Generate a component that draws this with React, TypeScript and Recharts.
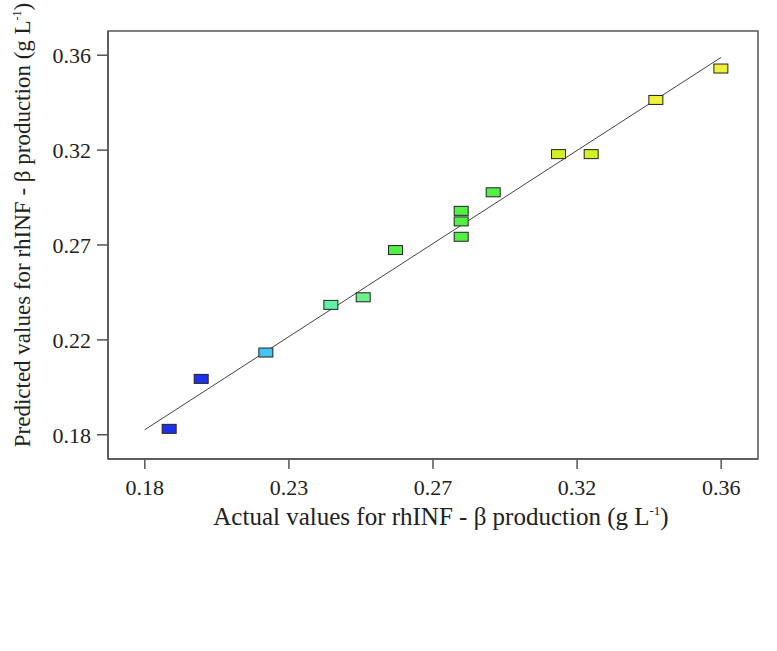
import { ScatterChart, Scatter, XAxis, YAxis, ReferenceLine, ReferenceArea } from "recharts";

// actual vs predicted rhINF-β production (g/L)
const actualValues = [0.1876, 0.1976, 0.2178, 0.2381, 0.2482, 0.2583, 0.2788, 0.2788, 0.2788, 0.2888, 0.3092, 0.3194, 0.3396, 0.3599];
const predictedValues = [0.1828, 0.2065, 0.219, 0.2416, 0.2452, 0.2676, 0.2862, 0.2812, 0.2739, 0.295, 0.3131, 0.3131, 0.3388, 0.3537];

const tickValues = [0.18, 0.225, 0.27, 0.315, 0.36];
const xTickLabels = ["0.18", "0.23", "0.27", "0.32", "0.36"];
const yTickLabels = ["0.18", "0.22", "0.27", "0.32", "0.36"];
const axisDomain = [0.1685, 0.3715];

// fitted line ends (actual, predicted)
const fitLine = [
  { x: 0.18, y: 0.1824 },
  { x: 0.36, y: 0.359 },
];

// colour ramp by actual value, like the design-expert plot
const colorStops: [number, string][] = [
  [0.2, "#1e32ee"],
  [0.225, "#44c4f0"],
  [0.244, "#62f0a4"],
  [0.253, "#6cee88"],
  [0.3, "#52f044"],
  [0.33, "#d4f020"],
  [1, "#eef03a"],
];

const colorFor = (v: number) => colorStops.find(([lim]) => v < lim)![1];

const data = actualValues.map((a, i) => ({ actual: a, predicted: predictedValues[i] }));

const FONT = "'Liberation Serif', 'DejaVu Serif', serif";

const Marker = (props: any) => {
  const { cx, cy, payload } = props;
  return (
    <rect x={cx - 7} y={cy - 4.5} width={14} height={9} fill={colorFor(payload.actual)} stroke="#222" strokeWidth={1} />
  );
};

const XLabel = (props: any) => {
  const { viewBox } = props;
  const cx = viewBox.x + viewBox.width / 2 + 8;
  return (
    <text x={cx} y={525} textAnchor="middle" fontFamily={FONT} fontSize={25} fill="#222">
      Actual values for rhINF - β production (g L
      <tspan fontSize={13} dy={-10}>-1</tspan>
      <tspan dy={10}>)</tspan>
    </text>
  );
};

const YLabel = () => (
  <text
    x={0}
    y={0}
    transform="translate(30,225) rotate(-90)"
    textAnchor="middle"
    fontFamily={FONT}
    fontSize={23}
    fill="#222"
  >
    Predicted values for rhINF - β production (g L
    <tspan fontSize={12} dy={-9}>-1</tspan>
    <tspan dy={9}>)</tspan>
  </text>
);

export default function App() {
  return (
    <div style={{ position: "absolute", left: 0, top: 0, background: "#fff" }}>
      <ScatterChart width={777} height={651} margin={{ top: 31, right: 19, bottom: 152, left: 48 }}>
        <XAxis
          type="number"
          dataKey="actual"
          domain={axisDomain}
          ticks={tickValues}
          tickFormatter={(v: number) => xTickLabels[tickValues.indexOf(v)]}
          allowDataOverflow
          height={40}
          tickSize={10}
          tickMargin={10}
          stroke="#555"
          strokeWidth={1.5}
          tick={{ fill: "#222", fontFamily: FONT, fontSize: 22 }}
          label={<XLabel />}
        />
        <YAxis
          type="number"
          dataKey="predicted"
          domain={axisDomain}
          ticks={tickValues}
          tickFormatter={(v: number) => yTickLabels[tickValues.indexOf(v)]}
          allowDataOverflow
          width={60}
          tickSize={11}
          tickMargin={6}
          stroke="#555"
          strokeWidth={1.5}
          tick={{ fill: "#222", fontFamily: FONT, fontSize: 22 }}
          label={<YLabel />}
        />
        <ReferenceArea
          x1={axisDomain[0]}
          x2={axisDomain[1]}
          y1={axisDomain[0]}
          y2={axisDomain[1]}
          fill="none"
          stroke="#555"
          strokeWidth={1.5}
          ifOverflow="visible"
        />
        <ReferenceLine segment={fitLine} stroke="#444" strokeWidth={1} />
        <Scatter data={data} shape={<Marker />} isAnimationActive={false} />
      </ScatterChart>
    </div>
  );
}
